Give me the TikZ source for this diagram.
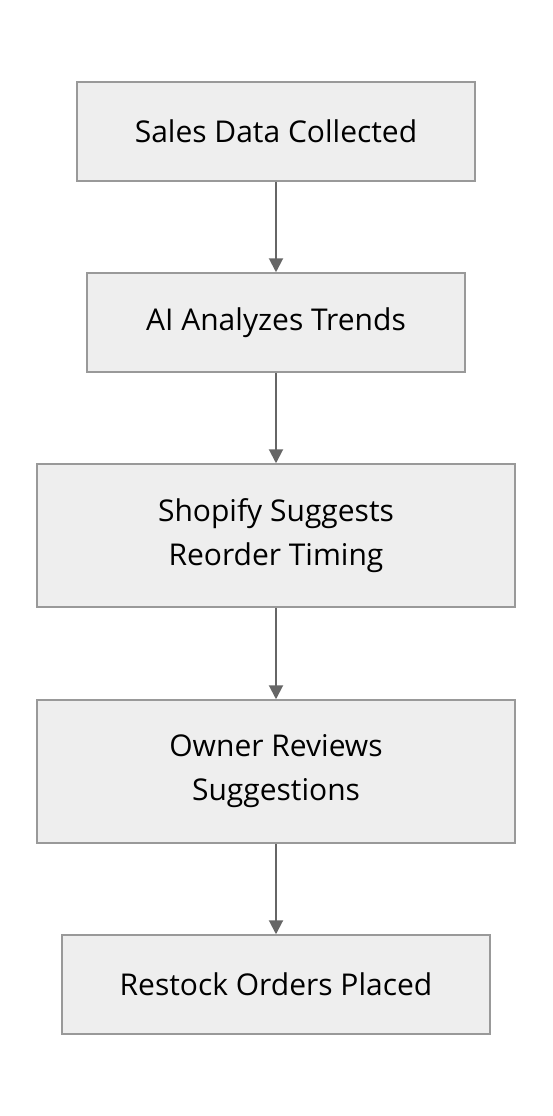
\documentclass[tikz,border=0pt]{standalone}
\usepackage{fontspec}
\setmainfont{Open Sans}
\usetikzlibrary{arrows.meta}

\definecolor{boxfill}{HTML}{EEEEEE}
\definecolor{boxline}{HTML}{999999}
\definecolor{arrowline}{HTML}{666666}

\tikzset{
  flowbox/.style={draw=boxline, fill=boxfill, line width=1.5pt, align=center,
    inner sep=0pt, font=\fontsize{30}{44}\selectfont},
  flowarrow/.style={draw=arrowline, line width=2pt,
    -{Triangle[length=14pt,width=14pt]}}
}

\begin{document}
\begin{tikzpicture}[x=1pt,y=-1pt]
\useasboundingbox[fill=white] (0,0) rectangle (552,1116);

\node[flowbox, minimum width=398pt, minimum height=99pt] at (276,131.5) (sales) {Sales Data Collected};
\node[flowbox, minimum width=378pt, minimum height=99pt] at (276,322.5) (ai) {AI Analyzes Trends};
\node[flowbox, minimum width=478pt, minimum height=143pt] at (276,535.5) (shop) {Shopify Suggests\\ Reorder Timing};
\node[flowbox, minimum width=478pt, minimum height=143pt] at (276,771.5) (owner) {Owner Reviews\\ Suggestions};
\node[flowbox, minimum width=428pt, minimum height=99pt] at (276,984.5) (restock) {Restock Orders Placed};

\draw[flowarrow] (sales) -- (ai);
\draw[flowarrow] (ai) -- (shop);
\draw[flowarrow] (shop) -- (owner);
\draw[flowarrow] (owner) -- (restock);
\end{tikzpicture}
\end{document}
